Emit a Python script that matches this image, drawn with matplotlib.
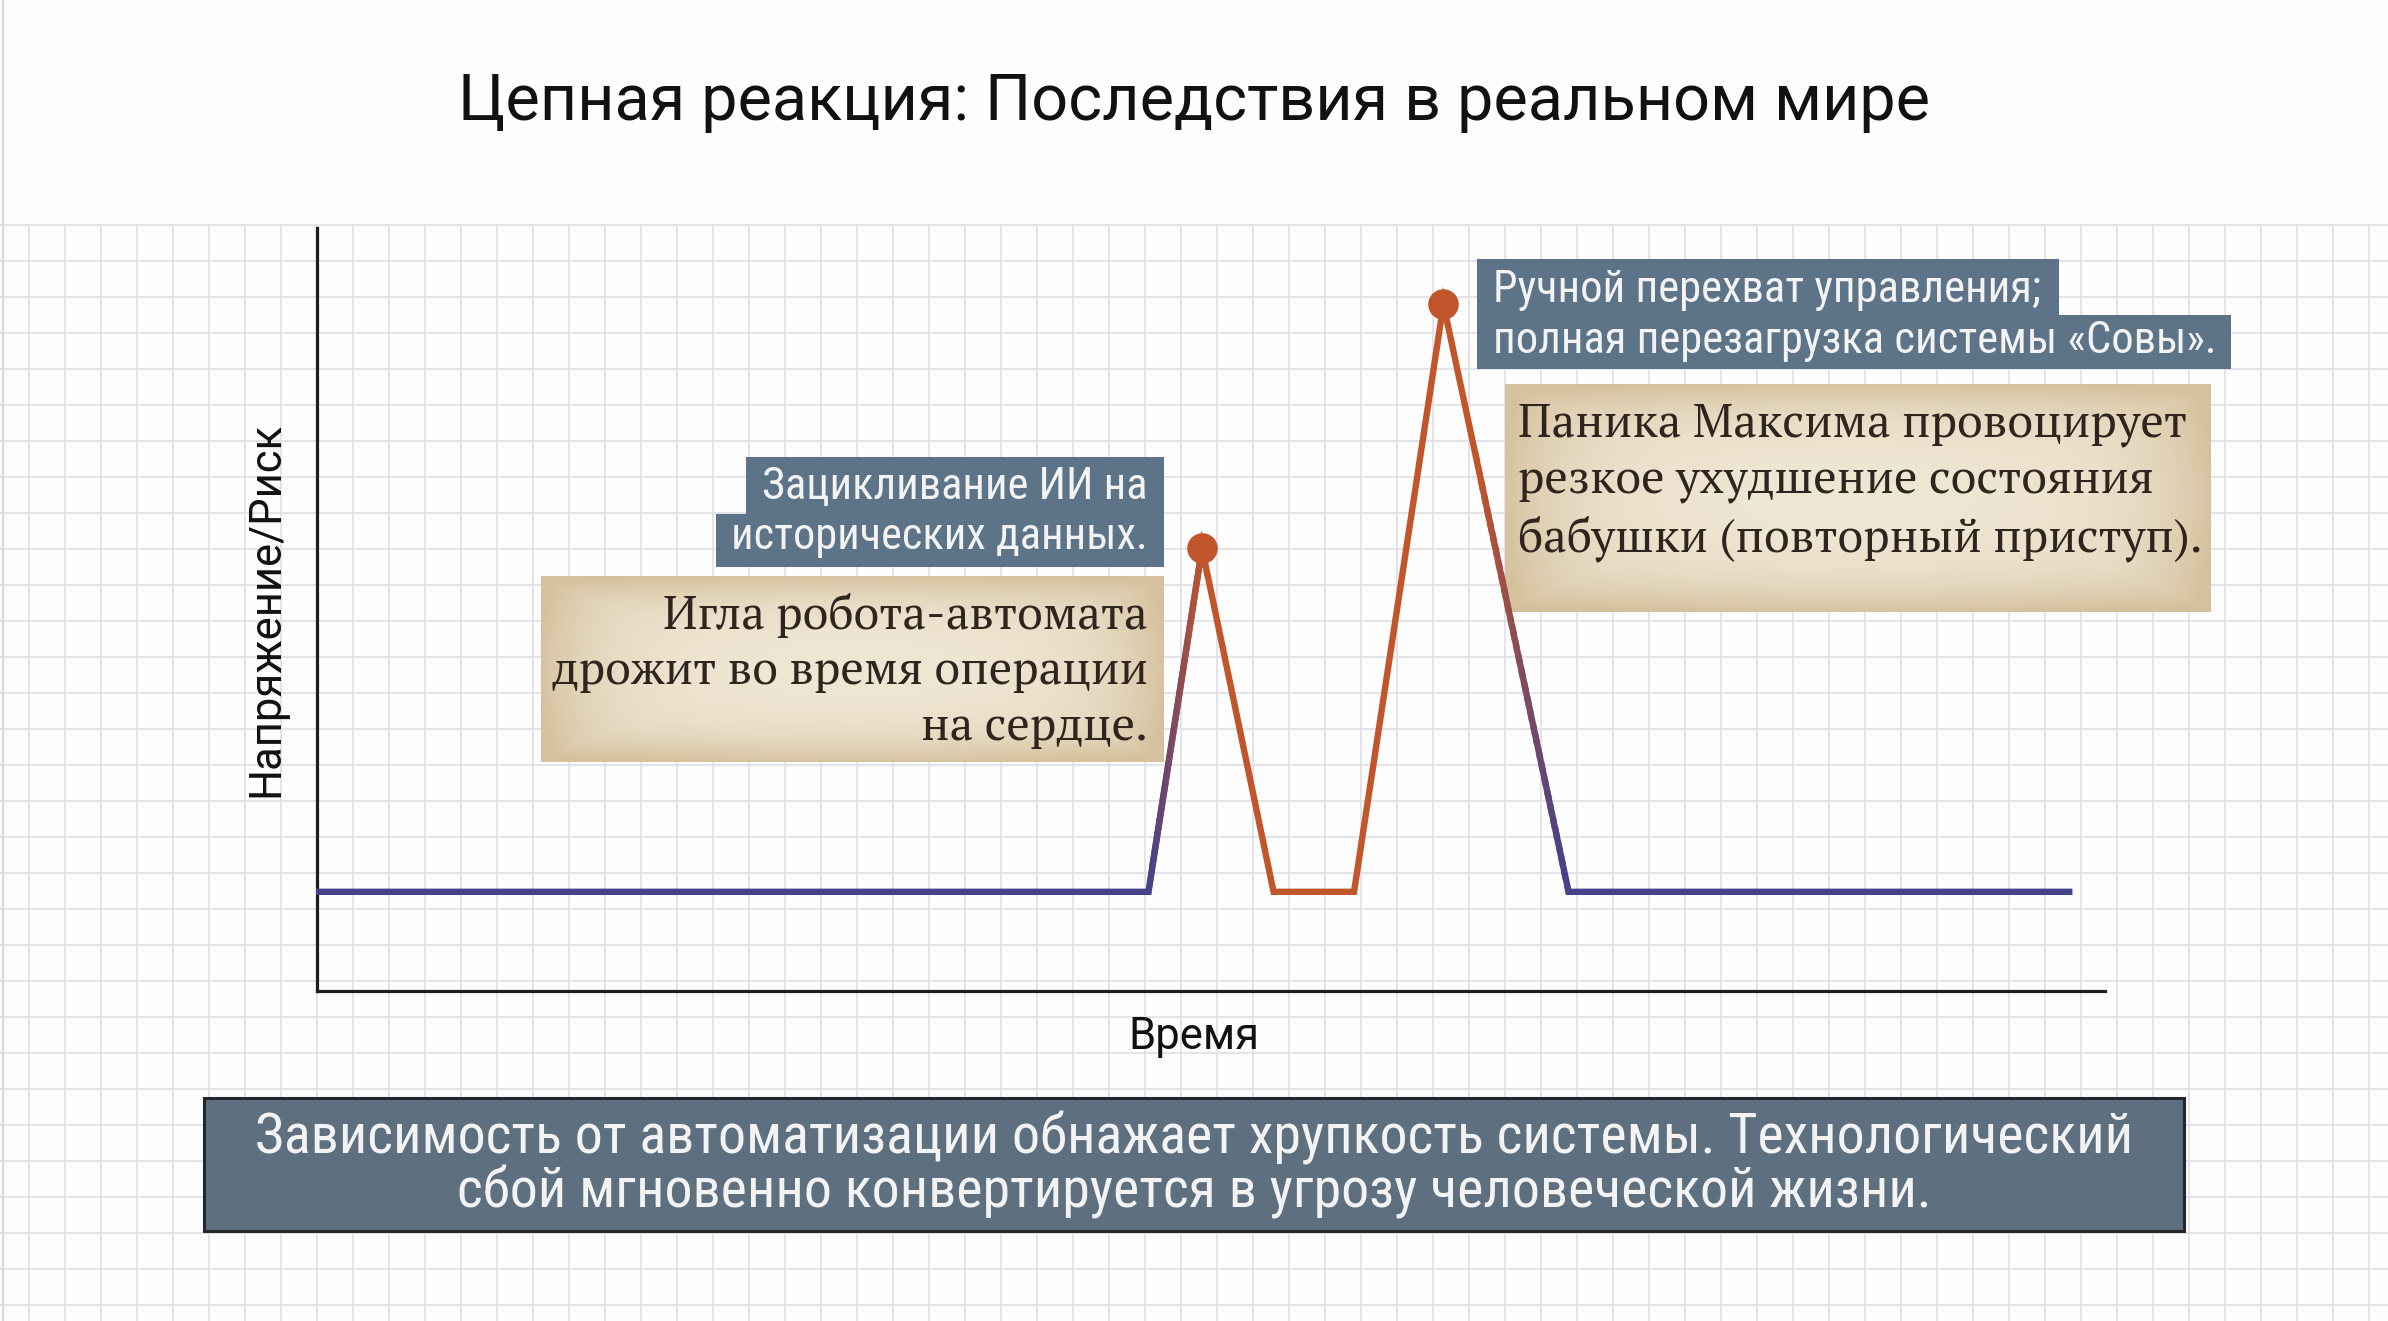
import numpy as np
import matplotlib
matplotlib.use('Agg')
import matplotlib.pyplot as plt
from matplotlib import font_manager
from matplotlib.colors import to_rgb
from matplotlib.patches import Rectangle

# --- данные графика ---
time = [0, 46.5, 49.5, 53.5, 58, 63, 70, 98]
risk = [13, 13, 58, 13, 13, 90, 13, 13]
peak_idx = [2, 5]

title = 'Цепная реакция: Последствия в реальном мире'
x_label = 'Время'
y_label = 'Напряжение/Риск'
note1_tag = ['Зацикливание ИИ на', 'исторических данных.']
note1_text = ['Игла робота-автомата', 'дрожит во время операции', 'на сердце.']
note2_tag = ['Ручной перехват управления;', 'полная перезагрузка системы «Совы».']
note2_text = ['Паника Максима провоцирует', 'резкое ухудшение состояния',
              'бабушки (повторный приступ).']
summary = ['Зависимость от автоматизации обнажает хрупкость системы. Технологический',
           'сбой мгновенно конвертируется в угрозу человеческой жизни.']

PURPLE = '#46428a'
ORANGE = '#c1552b'
TAG_BG = '#5d7387'
INK = '#30251e'


def pick_font(names):
    have = {f.name for f in font_manager.fontManager.ttflist}
    for n in names:
        if n in have:
            return n
    return 'DejaVu Sans'


SANS = pick_font(['Roboto', 'Liberation Sans', 'DejaVu Sans'])
NARROW = pick_font(['Roboto Condensed', 'Liberation Sans Narrow', 'Roboto'])
SERIF = pick_font(['PT Serif', 'Liberation Serif', 'DejaVu Serif'])

W, H = 2388, 1321
fig = plt.figure(figsize=(W / 100, H / 100), dpi=100, facecolor='#fdfdfd')

# фон: тетрадная клетка, координаты в пикселях
bg = fig.add_axes([0, 0, 1, 1], zorder=0)
bg.axis('off')
step = 36
grid_top = 225
bg.vlines(np.arange(317 % step, W, step), grid_top, H, color='#e1e1e7', lw=1.3)
bg.hlines(np.arange(grid_top, H, step), 0, W, color='#e1e1e7', lw=1.3)
bg.vlines([3], 0, H, color='#d8d8d8', lw=1.5)


def parchment(x0, x1, y0, y1):
    h, w = int(y1 - y0), int(x1 - x0)
    yy, xx = np.mgrid[-1:1:h * 1j, -1:1:w * 1j]
    d = np.clip(np.maximum(np.abs(xx) ** 6, np.abs(yy) ** 4) * 0.7
                + (xx ** 2 + yy ** 2) * 0.25, 0, 1)
    c_in = np.array(to_rgb('#efe6d4'))
    c_out = np.array(to_rgb('#d5c19d'))
    img = c_in + (c_out - c_in) * d[..., None]
    bg.imshow(img, extent=(x0, x1, y1, y0), aspect='auto', zorder=2, interpolation='bilinear')


def tag_box(x0, x1, y0, y1, color=TAG_BG, edge='none', lw=0):
    bg.add_patch(Rectangle((x0, y0), x1 - x0, y1 - y0, facecolor=color,
                           edgecolor=edge, lw=lw, zorder=2))


texts = {}

# левая аннотация
tag_box(746, 1164, 457, 516)
tag_box(716, 1164, 514, 567)
texts['t1'] = [bg.text(1148, cy, s, ha='right', va='center', color='#f3f3f3',
                       family=NARROW, fontsize=24, zorder=3)
               for s, cy in zip(note1_tag, [487, 537])]
parchment(541, 1164, 576, 762)
texts['p1'] = [bg.text(1148, cy, s, ha='right', va='center', color=INK,
                       family=SERIF, fontsize=30, zorder=3)
               for s, cy in zip(note1_text, [615, 671, 727])]

# правая аннотация
tag_box(1477, 2059, 259, 318)
tag_box(1477, 2231, 315, 369)
texts['t2'] = [bg.text(1493, cy, s, ha='left', va='center', color='#f3f3f3',
                       family=NARROW, fontsize=24, zorder=3)
               for s, cy in zip(note2_tag, [290, 341])]
parchment(1505, 2211, 384, 612)
texts['p2'] = [bg.text(1518, cy, s, ha='left', va='center', color=INK,
                       family=SERIF, fontsize=30, zorder=3)
               for s, cy in zip(note2_text, [425, 482, 539])]

# итоговая плашка
tag_box(204, 2184, 1098, 1231, color='#5e7080', edge='#22262b', lw=2.2)
texts['sum'] = [bg.text(1194, cy, s, ha='center', va='center', color='#f3f3f3',
                        family=NARROW, fontsize=30, zorder=3)
                for s, cy in zip(summary, [1138, 1192])]

texts['title'] = [bg.text(1194, 102, title, ha='center', va='center', color='#111111',
                          family=SANS, fontsize=44, zorder=3)]
bg.set_xlim(0, W)
bg.set_ylim(H, 0)

# --- основной график ---
ax = fig.add_axes([317 / W, 1 - 991 / H, (2105 - 317) / W, (991 - 228) / H], zorder=2)
ax.patch.set_alpha(0)
ax.set_xlim(0, 100)
ax.set_ylim(0, 100)
for s in ['top', 'right']:
    ax.spines[s].set_visible(False)
for s in ['left', 'bottom']:
    ax.spines[s].set_linewidth(2.3)
    ax.spines[s].set_color('#1e1e1e')
ax.set_xticks([])
ax.set_yticks([])

# цвет линии меняется по времени: фиолетовый -> оранжевый -> фиолетовый
stops = [(0, PURPLE), (46.6, PURPLE), (49.6, ORANGE), (65, ORANGE), (69.8, PURPLE), (100, PURPLE)]
for (a, ca), (b, cb) in zip(stops[:-1], stops[1:]):
    n = 1 if ca == cb else 30
    c1, c2 = np.array(to_rgb(ca)), np.array(to_rgb(cb))
    for k in range(n):
        x0 = a + (b - a) * k / n
        x1 = a + (b - a) * (k + 1) / n
        col = c1 + (c2 - c1) * (k + 0.5) / n
        ln, = ax.plot(time, risk, color=col, lw=4.6, solid_joinstyle='miter', zorder=4)
        ln.set_clip_path(Rectangle((x0 - 0.05, -20), x1 - x0 + 0.1, 140, transform=ax.transData))

ax.plot([time[i] for i in peak_idx], [risk[i] for i in peak_idx], 'o',
        ms=21, color=ORANGE, zorder=5)

ax.set_xlabel(x_label, family=SANS, fontsize=26, color='#111111')
ax.set_ylabel(y_label, family=SANS, fontsize=26, color='#111111')
ax.xaxis.set_label_coords((1194 - 317) / 1788, -46 / 763)
ax.xaxis.label.set_va('center')
ax.yaxis.set_label_coords(-(317 - 266) / 1788, 0.5)
ax.yaxis.label.set_va('center')

# подгонка размеров шрифта под ширину строк на образце
renderer = fig.canvas.get_renderer()


def fit(group, ref, target):
    w = group[ref].get_window_extent(renderer).width
    for t in group:
        t.set_fontsize(t.get_fontsize() * target / w)


fit(texts['title'], 0, 1470)
fit(texts['t1'], 1, 417)
fit(texts['t2'], 1, 723)
fit(texts['p1'], 1, 596)
fit(texts['p2'], 2, 685)
fit(texts['sum'], 0, 1873)
lab = [ax.yaxis.label, ax.xaxis.label]
w = ax.xaxis.label.get_window_extent(renderer).width
for t in lab:
    t.set_fontsize(t.get_fontsize() * 131 / w)

fig.savefig('out.png', dpi=100, facecolor=fig.get_facecolor())
